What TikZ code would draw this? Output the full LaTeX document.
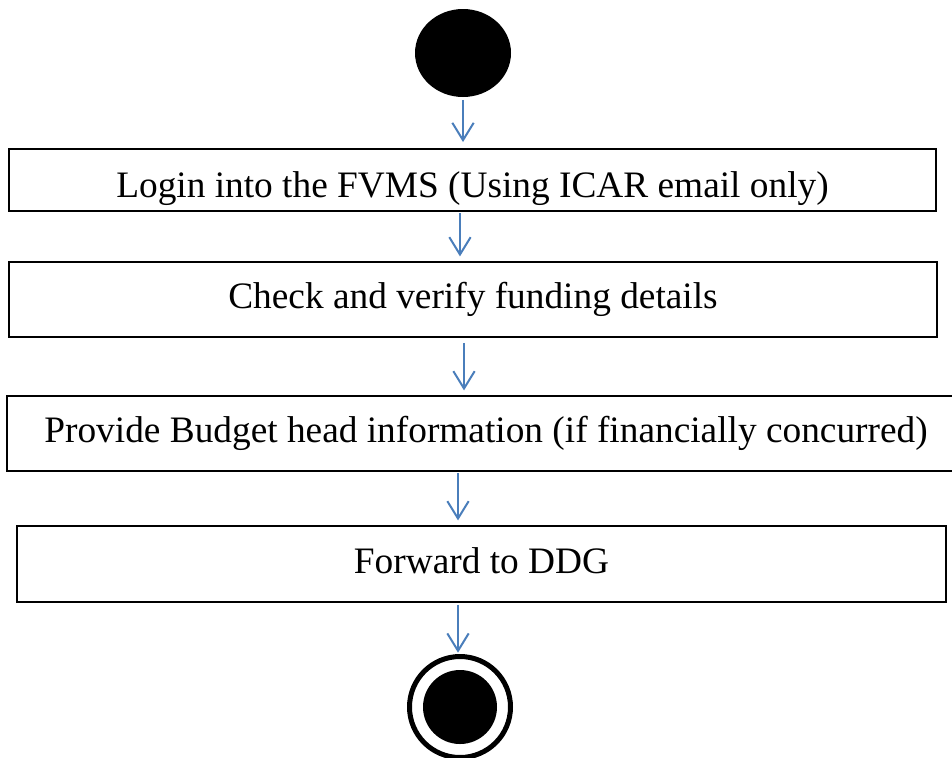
\documentclass[tikz,border=0pt]{standalone}
\usepackage{fontspec}
\setmainfont{Liberation Serif}
\usetikzlibrary{shapes.geometric,arrows.meta,positioning}

\definecolor{flowblue}{RGB}{74,126,187}
\tikzset{
  activity/.style={draw, line width=1.4pt, inner sep=0pt,
    text height=14.2pt, text depth=0pt,
    font=\fontsize{28}{32}\selectfont},
  flow/.style={draw=flowblue, line width=1.5pt,
    -{Straight Barb[length=13pt,width=16pt,line width=1.5pt]}},
}

\begin{document}
\begin{tikzpicture}[x=0.75pt,y=-0.75pt]
  \useasboundingbox (0,0) rectangle (952,757);

  % start state
  \node[ellipse, fill=black, inner sep=0pt, minimum width=72pt, minimum height=66pt] (start) at (463,53) {};

  % activities
  \node[activity, minimum width=695pt, minimum height=46.5pt, text height=25.5pt] (login) at (472.5,180) {Login into the FVMS (Using ICAR email only)};
  \node[activity, minimum width=696pt, minimum height=56.25pt] (check) at (473,299.5) {Check and verify funding details};
  \node[activity, minimum width=718.5pt, minimum height=56.25pt] (budget) at (486,433.5) {Provide Budget head information (if financially concurred)};
  \node[activity, minimum width=696.75pt, minimum height=57pt] (forward) at (481.5,564) {Forward to DDG};

  % end state
  \node[circle, draw, line width=3.75pt, inner sep=0pt, minimum size=75.75pt] (stop) at (460,707) {};
  \node[circle, fill=black, inner sep=0pt, minimum size=55.5pt] (stopdot) at (stop) {};

  % flows
  \draw[flow, shorten <=2pt, shorten >=4.5pt] (start.south) -- (start |- login.north);
  \foreach \a/\b/\dx/\gap in {login/check/-9.4pt/1pt, check/budget/-6.75pt/3.75pt, budget/forward/-21pt/1pt}
    \draw[flow, shorten <=\gap, shorten >=3.5pt] ([xshift=\dx]\a.south) -- ([xshift=\dx]\a.south |- \b.north);
  \draw[flow, shorten <=1.5pt, shorten >=1pt] ([xshift=-1.5pt]stop |- forward.south) -- ([xshift=-1.5pt]stop.north);
\end{tikzpicture}
\end{document}
